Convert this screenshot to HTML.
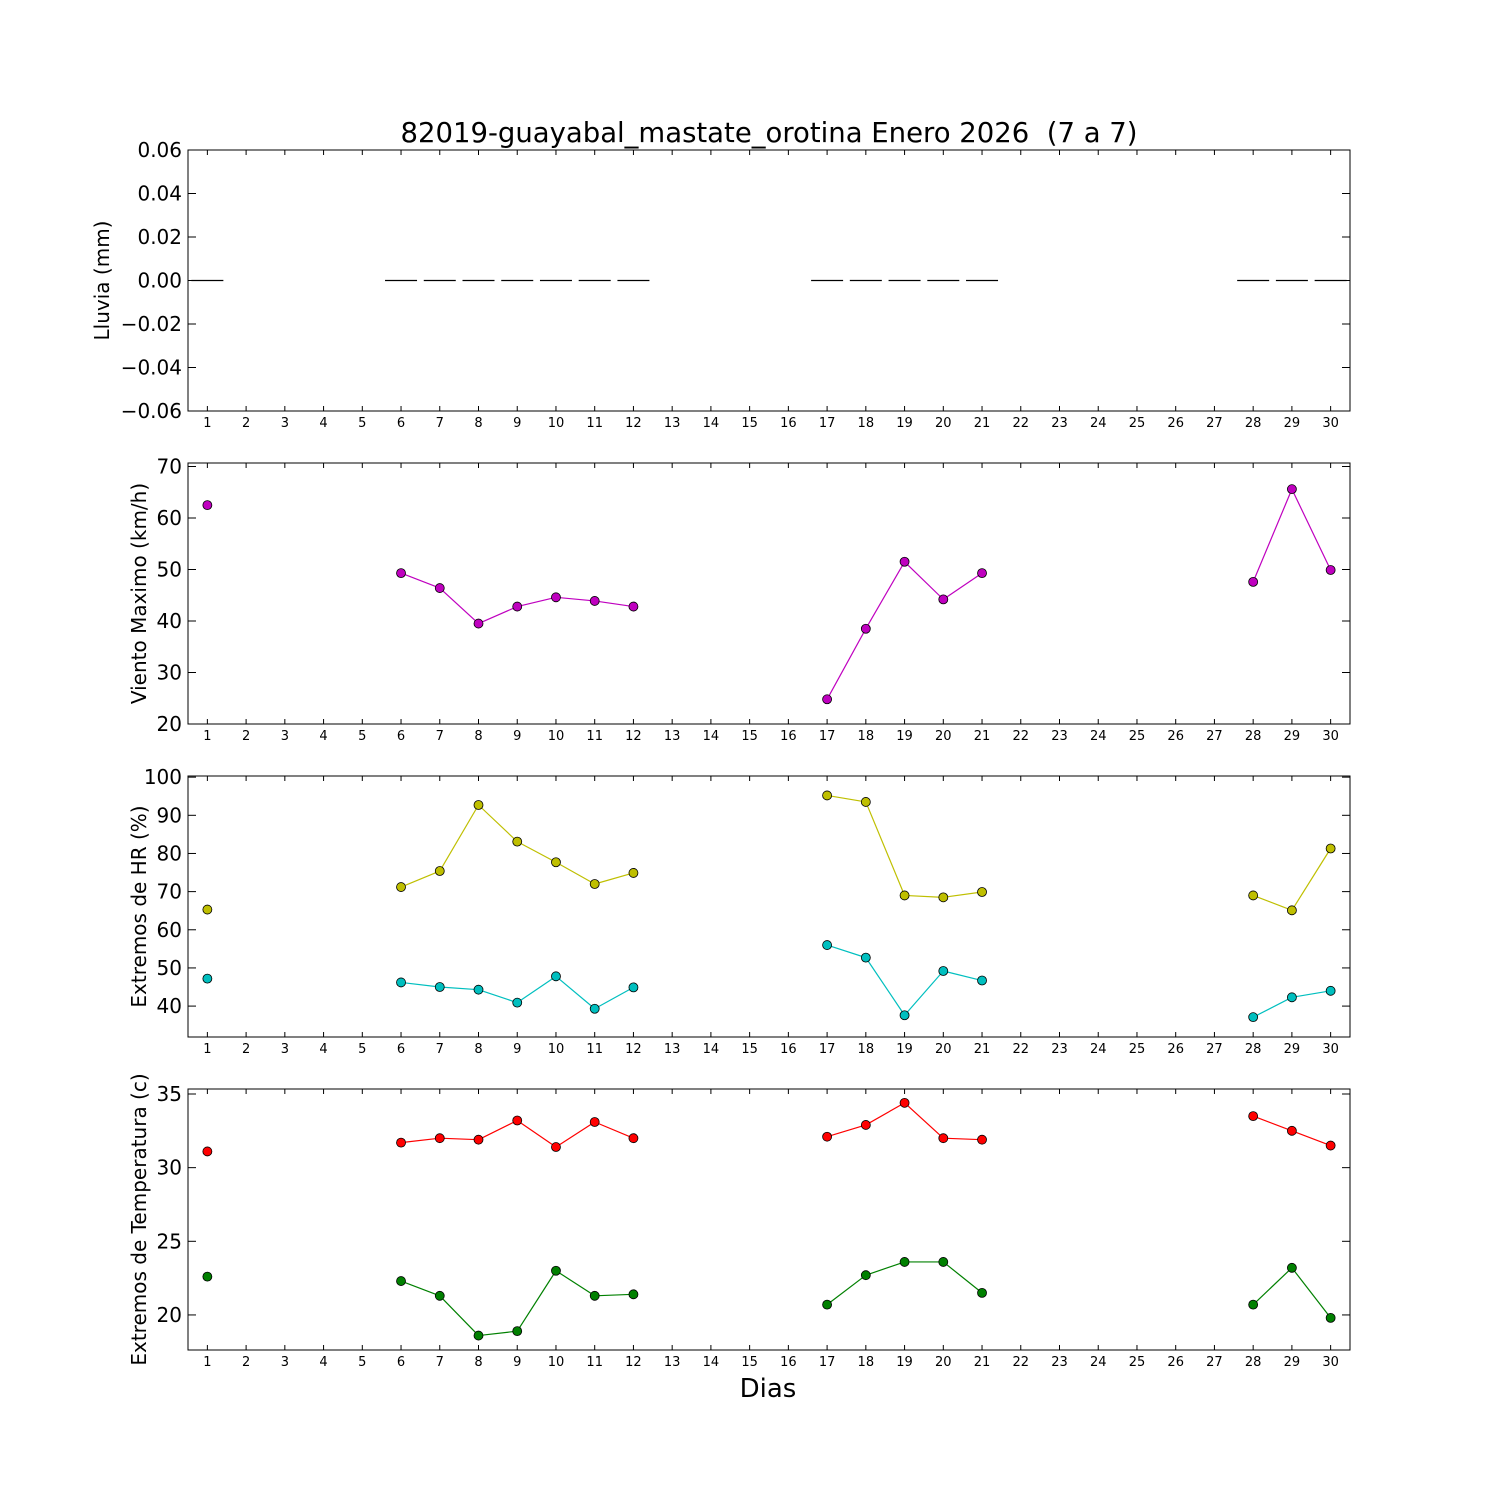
<!DOCTYPE html>
<html><head><meta charset="utf-8"><style>
body{margin:0;background:#fff;width:1500px;height:1500px;overflow:hidden}
svg{font-family:"DejaVu Sans","Liberation Sans",sans-serif}
</style></head><body>
<svg id="chart" width="1500" height="1500" viewBox="0 0 1500 1500">
<text x="769" y="142" font-size="27.5" text-anchor="middle">82019-guayabal_mastate_orotina Enero 2026 &#160;(7 a 7)</text>
<text x="768" y="1397" font-size="26" text-anchor="middle">Dias</text>
</svg>
<script>
const days=[1,6,7,8,9,10,11,12,17,18,19,20,21,28,29,30];
const rain=[0,0,0,0,0,0,0,0,0,0,0,0,0,0,0,0];
const wind=[62.5,49.3,46.4,39.5,42.8,44.6,43.9,42.8,24.8,38.5,51.5,44.2,49.3,47.6,65.6,49.9];
const hrMax=[65.3,71.2,75.4,92.7,83.1,77.7,72,74.9,95.2,93.5,69,68.5,69.9,69,65.1,81.3];
const hrMin=[47.2,46.2,45,44.3,40.9,47.8,39.3,44.9,56,52.7,37.6,49.2,46.7,37.1,42.3,44];
const tMax=[31.1,31.7,32,31.9,33.2,31.4,33.1,32,32.1,32.9,34.4,32,31.9,33.5,32.5,31.5];
const tMin=[22.6,22.3,21.3,18.6,18.9,23,21.3,21.4,20.7,22.7,23.6,23.6,21.5,20.7,23.2,19.8];
const rainTicks=["\u22120.06","\u22120.04","\u22120.02","0.00","0.02","0.04","0.06"];
const rainTickVals=[-0.06,-0.04,-0.02,0,0.02,0.04,0.06];
const windTicks=[20,30,40,50,60,70];
const hrTicks=[40,50,60,70,80,90,100];
const tTicks=[20,25,30,35];

const svg=document.getElementById('chart');
const NS='http://www.w3.org/2000/svg';
const L=188,R=1350;
function mk(t,a){const e=document.createElementNS(NS,t);for(const k in a)e.setAttribute(k,a[k]);svg.appendChild(e);return e;}
const xs=d=>L+(d-0.5)*(R-L)/30;

function panel(name,top,bot,ymin,ymax,ylabel,tickVals,tickLabels){
  const ys=v=>bot-(v-ymin)/(ymax-ymin)*(bot-top);
  const fr=mk('rect',{x:L,y:top,width:R-L,height:bot-top,fill:'none',stroke:'#000','stroke-width':1});
  
  
  for(let d=1;d<=30;d++){
    const x=xs(d);
    const t1=mk('line',{x1:x,x2:x,y1:bot,y2:bot-5,stroke:'#000'});
    
    
    mk('line',{x1:x,x2:x,y1:top,y2:top+5,stroke:'#000'});
    const tl=mk('text',{x:x,y:bot+16,'font-size':13,'text-anchor':'middle'});
    
    
    tl.textContent=d;
  }
  tickVals.forEach((v,i)=>{
    const y=ys(v);
    const t=mk('line',{x1:L,x2:L+8,y1:y,y2:y,stroke:'#000'});
    
    
    mk('line',{x1:R,x2:R-8,y1:y,y2:y,stroke:'#000'});
    const tl=mk('text',{x:L-6,y:y+7,'font-size':20,'text-anchor':'end'});
    
    
    tl.textContent=tickLabels[i];
  });
  const cy=(top+bot)/2;
  const yl=mk('text',{x:0,y:0,'font-size':20,'text-anchor':'middle',transform:`translate(${name==='rain'?109:146},${cy}) rotate(-90)`});
  
  
  yl.textContent=ylabel;
  return ys;
}
function series(name,ys,vals,color){
  for(let i=1;i<days.length;i++){
    if(days[i]-days[i-1]===1){
      const ln=mk('line',{x1:xs(days[i-1]),y1:ys(vals[i-1]),x2:xs(days[i]),y2:ys(vals[i]),stroke:color,'stroke-width':1.2});
      
      
    }
  }
  days.forEach((d,i)=>{
    const c=mk('circle',{cx:xs(d),cy:ys(vals[i]),r:4.5,fill:color,stroke:'#000','stroke-width':0.8});
    
    
  });
}
const ys1=panel('rain',150,411,-0.06,0.06,'Lluvia (mm)',rainTickVals,rainTicks);
days.forEach((d,i)=>{
  const b=mk('line',{x1:xs(d)-16,x2:xs(d)+16,y1:ys1(rain[i]),y2:ys1(rain[i]),stroke:'#000','stroke-width':1.3});
  
  
});
const ys2=panel('wind',463,724,20,70.68,'Viento Maximo (km/h)',windTicks,windTicks);
series('wind',ys2,wind,'#bf00bf');
const ys3=panel('humidity',776,1037,31.9,100.3,'Extremos de HR (%)',hrTicks,hrTicks);
series('hr-max',ys3,hrMax,'#bfbf00');
series('hr-min',ys3,hrMin,'#00bfbf');
const ys4=panel('temperature',1089,1350,17.62,35.34,'Extremos de Temperatura (c)',tTicks,tTicks);
series('temp-max',ys4,tMax,'#ff0000');
series('temp-min',ys4,tMin,'#008000');
</script>
</body></html>
